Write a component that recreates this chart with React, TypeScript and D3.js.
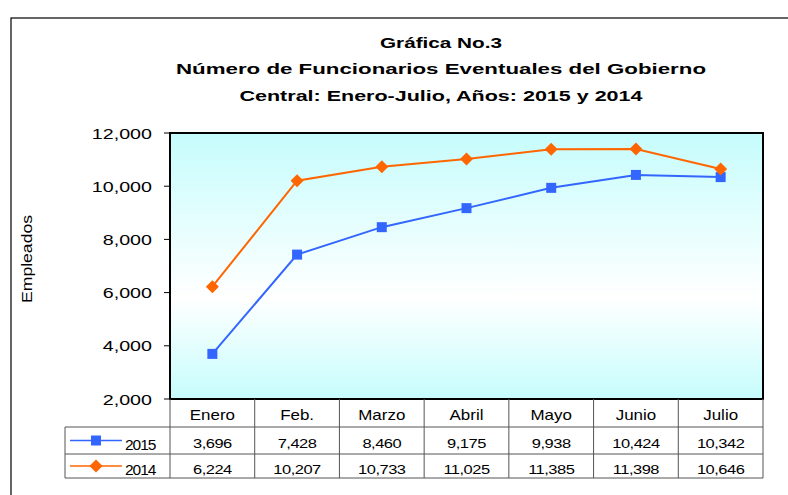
import React from "react";
import * as d3 from "d3";

const categories = ["Enero", "Feb.", "Marzo", "Abril", "Mayo", "Junio", "Julio"];
const series2015 = [3696, 7428, 8460, 9175, 9938, 10424, 10342];
const series2014 = [6224, 10207, 10733, 11025, 11385, 11398, 10646];
const yTicks = [2000, 4000, 6000, 8000, 10000, 12000];
const titleLines = [
  "Gráfica No.3",
  "Número de Funcionarios Eventuales del Gobierno",
  "Central: Enero-Julio, Años: 2015 y 2014",
];
const titleWidths = [122, 530, 403];

const W = 788;
const H = 495;
const plotL = 170;
const plotR = 763;
const plotT = 133;
const plotB = 399;
const rowH = [399, 427, 454, 478];
const legendL = 65;
const FONT = "'Liberation Sans', Arial, sans-serif";
const BLUE = "#3366ff";
const ORANGE = "#ff6600";

function SText(props: {
  x: number;
  y: number;
  sx: number;
  anchor?: string;
  size: number;
  weight?: string;
  spacing?: number;
  children: React.ReactNode;
}) {
  return (
    <text
      transform={`translate(${props.x},${props.y}) scale(${props.sx},1)`}
      textAnchor={props.anchor || "middle"}
      fontSize={props.size}
      fontWeight={props.weight || "normal"}
      letterSpacing={props.spacing || 0}
      fill="#000"
    >
      {props.children}
    </text>
  );
}

export default function App() {
  const x = d3.scaleBand<string>().domain(categories).range([plotL, plotR]).padding(0);
  const y = d3.scaleLinear().domain([2000, 12000]).range([plotB, plotT]);
  const cx = (c: string) => (x(c) as number) + x.bandwidth() / 2;
  const fmt = d3.format(",");
  const line = d3
    .line<number>()
    .x((_, i) => cx(categories[i]))
    .y((d) => y(d));

  const diamond = (px: number, py: number, r: number) =>
    `M${px},${py - r}L${px + r},${py}L${px},${py + r}L${px - r},${py}Z`;

  const series = [
    { name: "2015", values: series2015, color: BLUE, marker: "square" },
    { name: "2014", values: series2014, color: ORANGE, marker: "diamond" },
  ];

  const marker = (m: string, px: number, py: number, color: string, key: string) =>
    m === "square" ? (
      <rect key={key} x={px - 5} y={py - 5} width={10} height={10} fill={color} />
    ) : (
      <path key={key} d={diamond(px, py, 6.5)} fill={color} />
    );

  return (
    <svg
      width={W}
      height={H}
      style={{ position: "absolute", left: 0, top: 0, background: "#fff" }}
      fontFamily={FONT}
    >
      <defs>
        <linearGradient id="bg" x1="0" y1="0" x2="0" y2="1">
          <stop offset="0" stopColor="#c6fcfc" />
          <stop offset="0.62" stopColor="#ffffff" />
          <stop offset="1" stopColor="#c6fcfc" />
        </linearGradient>
      </defs>
      <rect x={0} y={0} width={W} height={H} fill="#fff" />
      <rect x={11} y={18} width={W + 20} height={H + 20} fill="none" stroke="#000" strokeWidth={1.2} />

      {titleLines.map((t, i) => (
        <text
          key={i}
          x={441}
          y={47.5 + i * 26.5}
          textAnchor="middle"
          fontWeight="bold"
          fontSize={15.5}
          textLength={titleWidths[i]}
          lengthAdjust="spacingAndGlyphs"
          fill="#000"
        >
          {t}
        </text>
      ))}

      <rect x={plotL} y={plotT} width={plotR - plotL} height={plotB - plotT} fill="url(#bg)" />

      {yTicks.map((t) => (
        <g key={t}>
          <line x1={164} x2={plotL} y1={y(t)} y2={y(t)} stroke="#000" />
          <SText x={152} y={y(t) + 5.6} sx={1.27} anchor="end" size={15.5}>
            {fmt(t)}
          </SText>
        </g>
      ))}

      <text
        transform={`translate(32,${259}) rotate(-90)`}
        textAnchor="middle"
        fontSize={15}
        textLength={88}
        lengthAdjust="spacingAndGlyphs"
        fill="#000"
      >
        Empleados
      </text>

      {series.map((s) => (
        <g key={s.name}>
          <path d={line(s.values) || ""} fill="none" stroke={s.color} strokeWidth={2} />
          {s.values.map((v, i) => marker(s.marker, cx(categories[i]), y(v), s.color, s.name + i))}
        </g>
      ))}

      <rect
        x={plotL}
        y={plotT}
        width={plotR - plotL}
        height={plotB - plotT}
        fill="none"
        stroke="#000"
        strokeWidth={2}
      />

      {/* data table */}
      <g stroke="#555" strokeWidth={1}>
        {categories.map((c) => (
          <line key={c} x1={x(c) as number} x2={x(c) as number} y1={plotB} y2={rowH[3]} />
        ))}
        <line x1={plotR} x2={plotR} y1={plotB} y2={rowH[3]} />
        <line x1={legendL} x2={legendL} y1={rowH[1]} y2={rowH[3]} />
        <line x1={legendL} x2={plotR} y1={rowH[1]} y2={rowH[1]} />
        <line x1={legendL} x2={plotR} y1={rowH[2]} y2={rowH[2]} />
        <line x1={legendL} x2={plotR} y1={rowH[3]} y2={rowH[3]} />
      </g>
      {categories.map((c) => (
        <SText key={c} x={cx(c)} y={419.5} sx={1.13} size={15}>
          {c}
        </SText>
      ))}
      {series.map((s, r) => {
        const ry = (rowH[r + 1] + rowH[r + 2]) / 2;
        return (
          <g key={s.name}>
            <line x1={70} x2={122} y1={ry} y2={ry} stroke={s.color} strokeWidth={1.5} />
            {marker(s.marker, 96, ry, s.color, "lg" + s.name)}
            <SText x={125} y={ry + 9} sx={1} anchor="start" size={15.5} spacing={-1}>
              {s.name}
            </SText>
            {s.values.map((v, i) => (
              <SText key={i} x={cx(categories[i])} y={ry + 7.5} sx={1.22} size={13.5} spacing={-0.4}>
                {fmt(v)}
              </SText>
            ))}
          </g>
        );
      })}
    </svg>
  );
}
